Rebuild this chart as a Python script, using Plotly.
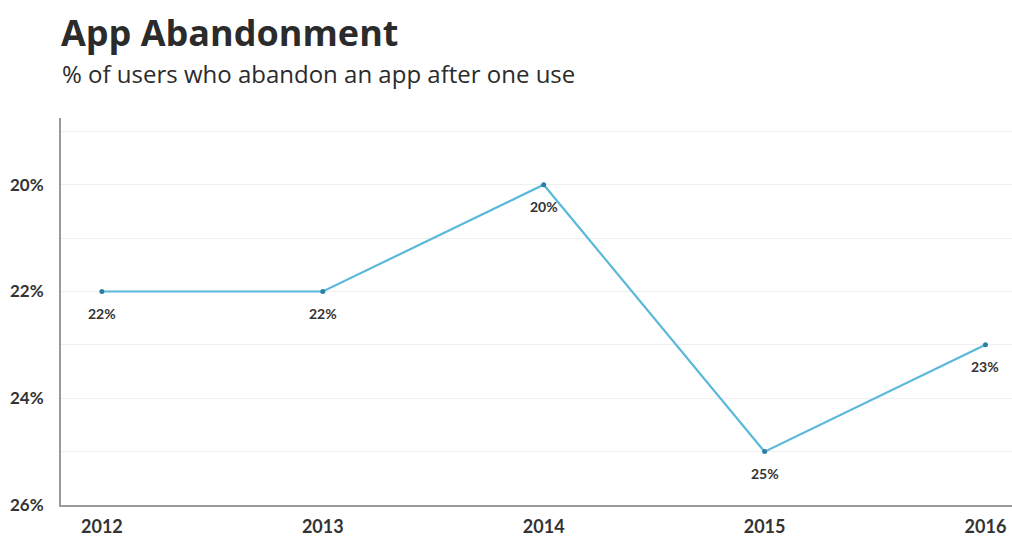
import plotly.graph_objects as go

years = [2012, 2013, 2014, 2015, 2016]
abandon_pct = [22, 22, 20, 25, 23]
y_ticks = [19, 20, 21, 22, 23, 24, 25, 26]
y_tick_text = ["", "20%", "", "22%", "", "24%", "", "26%"]
point_labels = [f"{v}%" for v in abandon_pct]

fig = go.Figure()
fig.add_trace(go.Scatter(
    x=years, y=abandon_pct, mode="lines+markers",
    line=dict(color="#5ab9da", width=2.2),
    marker=dict(color="#2d7fa6", size=5),
    hoverinfo="skip", showlegend=False,
))

for x, y, t in zip(years, abandon_pct, point_labels):
    fig.add_annotation(x=x, y=y, text=f"<b>{t}</b>", showarrow=False, yshift=-22,
                       font=dict(family="Lato", size=14, color="#333333"))

fig.add_annotation(xref="paper", yref="paper", x=0.0, y=1.222, xanchor="left", yanchor="middle",
                   text="<b>App Abandonment</b>", showarrow=False, xshift=-2,
                   font=dict(family="Open Sans", size=36, color="#2b2b2b"))
fig.add_annotation(xref="paper", yref="paper", x=0.0, y=1.116, xanchor="left", yanchor="middle",
                   text="% of users who abandon an app after one use", showarrow=False, xshift=-1,
                   font=dict(family="Open Sans", size=24, color="#2b2b2b"))

fig.update_layout(
    width=1012, height=536,
    margin=dict(l=61, r=0, t=118, b=31),
    paper_bgcolor="white", plot_bgcolor="white",
    font=dict(family="Lato", color="#333333"),
    xaxis=dict(
        range=[2011.815, 2016.12], tickvals=years,
        ticktext=[f"<b>{y}</b>" for y in years],
        showgrid=False, zeroline=False,
        showline=True, linecolor="#9a9a9a", linewidth=2,
        tickfont=dict(family="Lato", size=18, color="#333333"),
        ticks="", ticklabelstandoff=4,
    ),
    yaxis=dict(
        range=[26, 18.75], tickvals=y_ticks,
        ticktext=[f"<b>{t}</b>" if t else "" for t in y_tick_text],
        showgrid=True, gridcolor="#efefef", gridwidth=1,
        zeroline=False, showline=True, linecolor="#9a9a9a", linewidth=2,
        tickfont=dict(family="Lato", size=17, color="#333333"),
        ticks="", ticklabelstandoff=12,
    ),
)

fig.write_html("out.html", config={"displayModeBar": False},
               post_script="document.body.style.margin='0';document.body.style.overflow='hidden';")
